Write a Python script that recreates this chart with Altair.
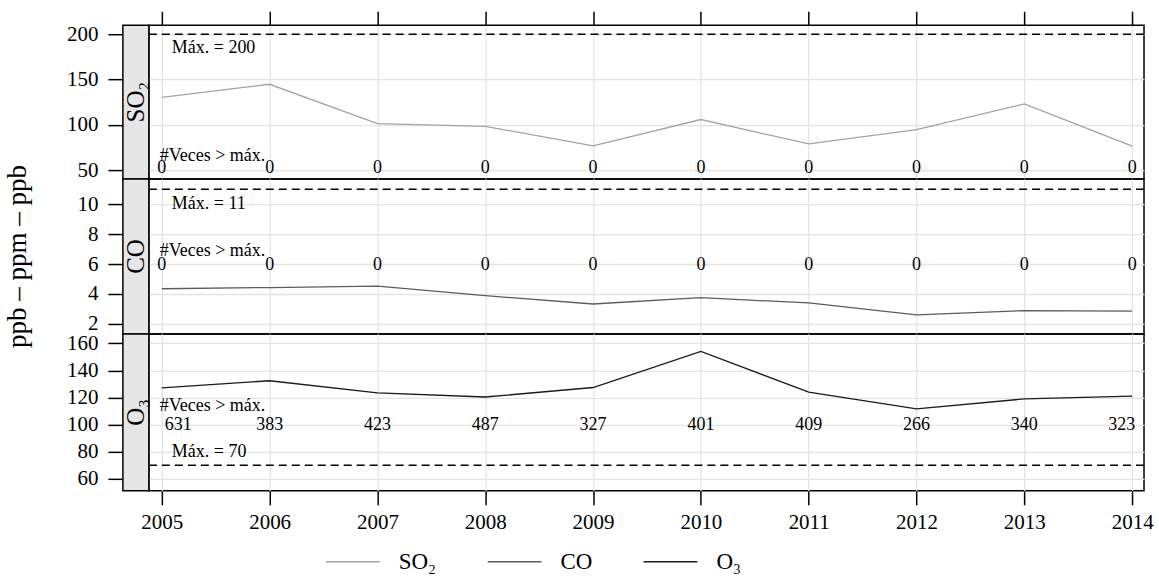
import altair as alt
import pandas as pd

# ---- data ----
years = [2005, 2006, 2007, 2008, 2009, 2010, 2011, 2012, 2013, 2014]
so2 = [130.3, 144.8, 101.4, 98.4, 76.7, 105.9, 78.9, 94.8, 123.1, 76.4]
co = [4.35, 4.43, 4.53, 3.89, 3.33, 3.75, 3.4, 2.6, 2.89, 2.85]
o3 = [127.2, 132.4, 123.5, 120.4, 127.4, 154.0, 124.0, 111.6, 119.0, 121.0]
veces_so2 = [0, 0, 0, 0, 0, 0, 0, 0, 0, 0]
veces_co = [0, 0, 0, 0, 0, 0, 0, 0, 0, 0]
veces_o3 = [631, 383, 423, 487, 327, 401, 409, 266, 340, 323]
series = ["SO₂", "CO", "O₃"]
maximos = [200, 11, 70]
colores = ["#a3a3a3", "#5c5c5c", "#1a1a1a"]
yticks = [[50, 100, 150, 200], [2, 4, 6, 8, 10], [60, 80, 100, 120, 140, 160]]
ydomains = [[40.1, 210.0], [1.33, 11.67], [51.2, 166.9]]
# annotation anchor levels (data units)
veces_lab_y = [66, 6.9, 114]
veces_num_y = [52, 5.95, 100]
max_dy = [14, 15, -13]

FONT = "Liberation Serif"
W = 996
heights = [154, 155, 157]
STRIP = 26
xdom = [2004.88, 2014.11]
ANN = 18

color_scale = alt.Scale(domain=series, range=colores)
legend = alt.Legend(
    orient="none", legendX=176, legendY=509, direction="horizontal",
    symbolType="stroke", symbolSize=2900, symbolStrokeWidth=1.3,
    labelFont=FONT, labelFontSize=23, labelOffset=18, columnPadding=48,
    title=None, labelColor="black",
)


def panel(i, vals, veces, xaxis_mode):
    h = heights[i]
    df = pd.DataFrame({"year": years, "val": vals, "veces": veces,
                       "serie": series[i]})
    one = pd.DataFrame({"serie": [series[i]], "maximo": [maximos[i]],
                        "lab": ["Máx. = %d" % maximos[i]]})

    if xaxis_mode == "top":
        xaxis = alt.Axis(orient="top", values=years, labels=False, tickSize=14,
                         tickColor="black", tickWidth=1.5, domain=False,
                         grid=True, gridColor="#e4e4e4", gridWidth=1.3, title=None)
    elif xaxis_mode == "bottom":
        xaxis = alt.Axis(orient="bottom", values=years, format="d", tickSize=14,
                         tickColor="black", tickWidth=1.5, domain=False,
                         labelFont=FONT, labelFontSize=21, labelColor="black",
                         labelPadding=7, grid=True, gridColor="#e4e4e4",
                         gridWidth=1.3, title=None, labelFlush=False)
    else:
        xaxis = alt.Axis(values=years, labels=False, ticks=False, domain=False,
                         grid=True, gridColor="#e4e4e4", gridWidth=1.3, title=None)
    yaxis = alt.Axis(values=yticks[i], offset=STRIP, tickSize=15, tickColor="black",
                     tickWidth=1.5, domain=False, labelFont=FONT, labelFontSize=21,
                     labelColor="black", labelPadding=10, grid=True,
                     gridColor="#e4e4e4", gridWidth=1.3, title=None)
    xs = alt.Scale(domain=xdom, nice=False, zero=False)
    ys = alt.Scale(domain=ydomains[i], nice=False, zero=False)

    def X(f):
        return alt.X(f, type="quantitative", scale=xs, axis=xaxis)

    def Y(f):
        return alt.Y(f, type="quantitative", scale=ys, axis=yaxis)

    base = alt.Chart(df)
    line = base.mark_line(strokeWidth=1.3).encode(
        x=X("year"), y=Y("val"),
        color=alt.Color("serie:N", scale=color_scale, legend=legend),
    )
    rule = alt.Chart(one).mark_rule(strokeDash=[8, 5], strokeWidth=1.5,
                                    color="black").encode(y=Y("maximo"))
    maxtxt = alt.Chart(one).mark_text(align="left", baseline="middle",
                                      font=FONT, fontSize=ANN, dy=max_dy[i],
                                      color="black").encode(
        x=alt.value(23), y=Y("maximo"), text="lab:N")
    vtxt = alt.Chart(one).mark_text(align="left", baseline="middle", font=FONT,
                                    fontSize=ANN, color="black").encode(
        x=alt.value(11), y=alt.Y(datum=veces_lab_y[i], scale=ys, axis=yaxis),
        text=alt.value("#Veces > máx."))
    layers = [line, rule, maxtxt, vtxt]
    if i == 2:
        mid = base.transform_filter(
            (alt.datum.year > 2005) & (alt.datum.year < 2014))
        first = base.transform_filter(alt.datum.year == 2005)
        last = base.transform_filter(alt.datum.year == 2014)
        for b, al in [(mid, "center"), (first, "left"), (last, "right")]:
            layers.append(b.mark_text(align=al, baseline="middle", font=FONT,
                                      fontSize=ANN, color="black",
                                      dx=0 if al == "center" else 3).encode(
                x=X("year"), y=alt.Y(datum=veces_num_y[i], scale=ys, axis=yaxis),
                text="veces:Q"))
    else:
        layers.append(base.mark_text(align="center", baseline="middle", font=FONT,
                                     fontSize=ANN, color="black").encode(
            x=X("year"), y=alt.Y(datum=veces_num_y[i], scale=ys, axis=yaxis),
            text="veces:Q"))
    strip = alt.Chart(one).mark_rect(fill="#e6e6e6", stroke="black",
                                     strokeWidth=1.5).encode(
        x=alt.value(-STRIP), x2=alt.value(0), y=alt.value(0), y2=alt.value(h))
    striptxt = alt.Chart(one).mark_text(angle=270, align="center",
                                        baseline="middle", font=FONT,
                                        fontSize=25, color="black").encode(
        x=alt.value(-STRIP / 2), y=alt.value(h / 2), text="serie:N")
    layers += [strip, striptxt]
    if i == 1:
        ytitle = alt.Chart(one).mark_text(angle=270, align="center",
                                          baseline="middle", font=FONT,
                                          fontSize=27, color="black").encode(
            x=alt.value(-131), y=alt.value(h / 2),
            text=alt.value("ppb – ppm – ppb"))
        layers.append(ytitle)
    return alt.layer(*layers).properties(width=W, height=h)


chart = alt.vconcat(
    panel(0, so2, veces_so2, "top"),
    panel(1, co, veces_co, "none"),
    panel(2, o3, veces_o3, "bottom"),
    spacing=0, bounds="flush",
).properties(
    padding={"left": 3, "top": 9, "right": 5, "bottom": 5},
    background="white",
).configure_view(
    stroke="black", strokeWidth=1.5
).configure_concat(spacing=0)

chart.save("out.html", embed_options={"renderer": "svg", "actions": False})
